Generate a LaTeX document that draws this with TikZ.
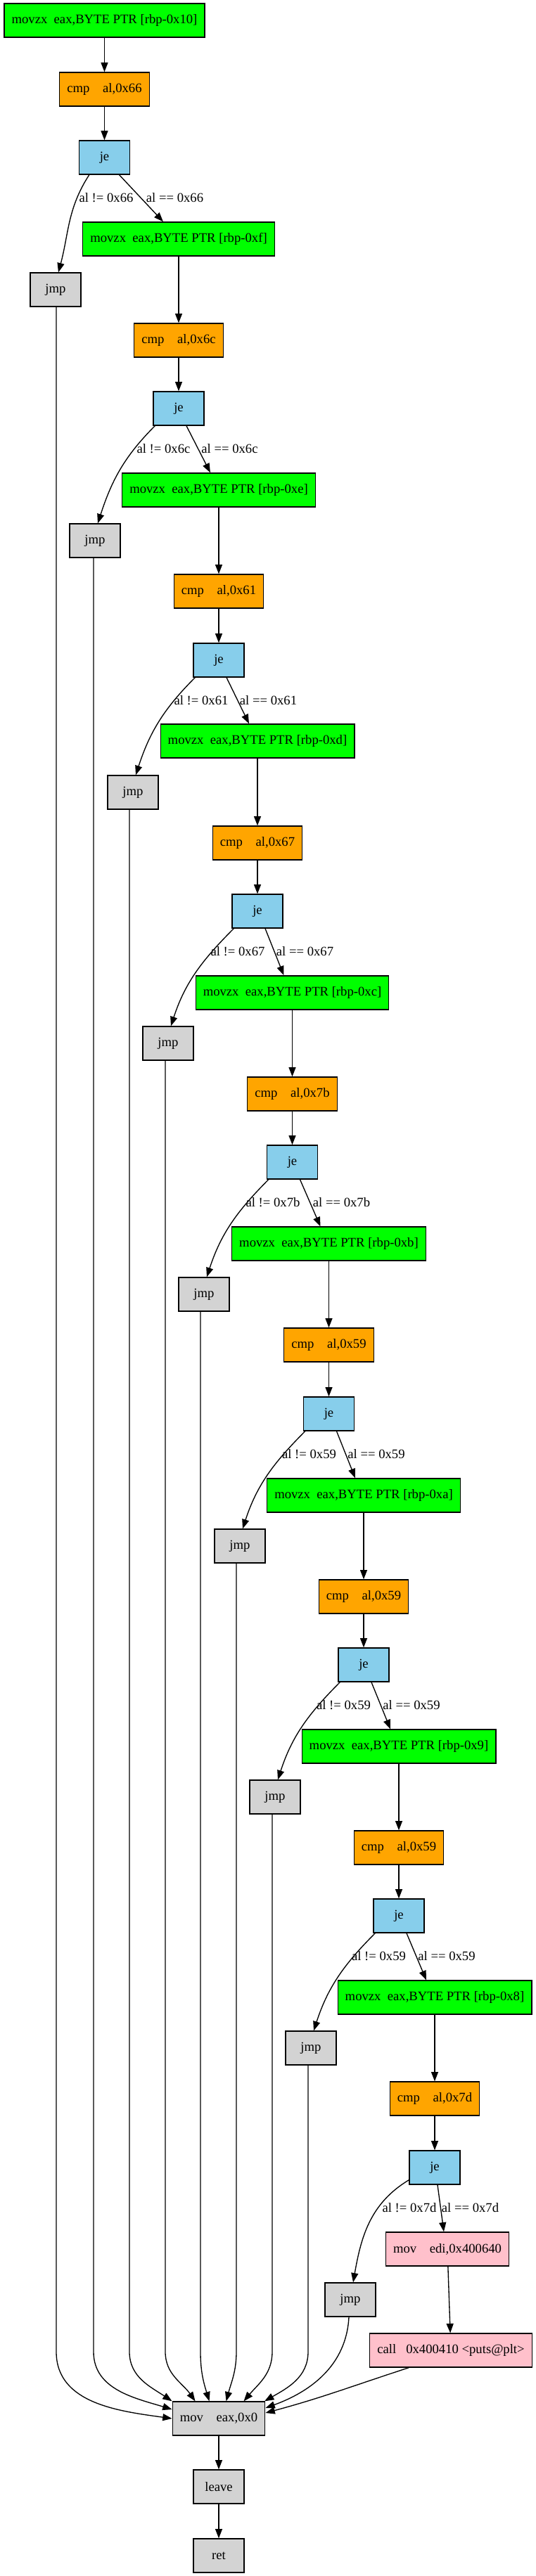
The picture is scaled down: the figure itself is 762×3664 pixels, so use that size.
\documentclass[tikz,border=0pt]{standalone}
\usepackage{fontspec}
\setmainfont{Liberation Serif}
\usetikzlibrary{arrows.meta}
\definecolor{grn}{HTML}{00FF00}
\definecolor{orng}{HTML}{FFA500}
\definecolor{skyb}{HTML}{87CEEB}
\definecolor{lgr}{HTML}{D3D3D3}
\definecolor{pnk}{HTML}{FFC0CB}
\begin{document}
\begin{tikzpicture}[x=0.75pt,y=0.75pt,
  blk/.style={draw=black,line width=1pt,minimum height=36pt,minimum width=54pt,inner xsep=7.92pt,inner ysep=0pt,font=\fontsize{14pt}{16pt}\selectfont},
  mzbox/.style={blk,fill=grn}, cmpbox/.style={blk,fill=orng}, jebox/.style={blk,fill=skyb},
  grbox/.style={blk,fill=lgr}, pkbox/.style={blk,fill=pnk},
  lbl/.style={inner sep=0pt,font=\fontsize{14pt}{16pt}\selectfont},
  arr/.style={-{Triangle[length=10pt,width=7.5pt]},line width=1pt}]
\useasboundingbox (0,0) rectangle (762,-3664);
\coordinate (bend) at (0,-3345);
\foreach \k/\mx/\my/\cy/\jy/\px/\py/\reg/\val in {
  1/148.5/29/127/224/79/412/0x10/0x66,
  2/254/340/484/581/135/769/0xf/0x6c,
  3/311/697/841/939/189/1127/0xe/0x61,
  4/366/1054/1199/1296/239/1484/0xd/0x67,
  5/415.5/1412/1556/1653/290/1841/0xc/0x7b,
  6/467.5/1769/1913/2011/341/2199/0xb/0x59,
  7/517/2127/2271/2368/391/2556/0xa/0x59,
  8/567/2484/2628/2725/442/2913/0x9/0x59,
  9/618/2841/2985/3083/498/3271/0x8/0x7d}{
  \node[mzbox] (m\k) at (\mx,-\my) {movzx\ \ eax,BYTE PTR [rbp-\reg]};
  \node[cmpbox] (c\k) at (\mx,-\cy) {cmp\ \ \ \ al,\val};
  \node[jebox] (j\k) at (\mx,-\jy) {je};
  \node[grbox] (p\k) at (\px,-\py) {jmp};
}
\foreach \k/\ax/\bx/\ly/\val in {
  1/151/248.5/281/0x66,
  2/232.5/326.5/638/0x6c,
  3/286/381.5/996/0x61,
  4/338/433.5/1353/0x67,
  5/388/485.5/1710/0x7b,
  6/439.5/535/2068/0x59,
  7/488.5/585/2425/0x59,
  8/538.5/635/2782/0x59,
  9/582/668.5/3140/0x7d}{
  \node[lbl] (ln\k) at (\ax,-\ly) {al != \val};
  \node[lbl] (le\k) at (\bx,-\ly) {al == \val};
}
\node[pkbox] (edi) at (636,-3199) {mov\ \ \ \ edi,0x400640};
\node[pkbox] (call) at (641,-3343) {call\ \ \ 0x400410 <puts@plt>};
\node[grbox] (m0) at (311,-3440) {mov\ \ \ \ eax,0x0};
\node[grbox] (leave) at (311,-3537) {leave};
\node[grbox] (ret) at (311,-3635) {ret};
% chain edges
\foreach \k in {1,...,9}{
  \draw[arr] (m\k) -- (c\k);
  \draw[arr] (c\k) -- (j\k);
}
\foreach \k in {2,...,8}{
  \pgfmathtruncatemacro\n{\k+1}
  \draw[arr] ([xshift=8.25pt]j\k.south) -- ([xshift=-9pt]m\n.north);
  \draw[arr] ([xshift=2.25pt]j\k.south west) to[out=-135,in=72] ([xshift=3pt]p\k.north);
}
\draw[arr] ([xshift=15.75pt]j1.south) -- ([xshift=-16.5pt]m2.north);
\draw[arr] ([xshift=11.25pt]j1.south west) to[out=-123,in=75] ([xshift=3pt]p1.north);
\draw[arr] ([xshift=3pt]j9.south) -- ([xshift=-3.75pt]edi.north);
\draw[arr] ([yshift=5.25pt]j9.south west) to[out=-149,in=80] ([xshift=3pt]p9.north);
\draw[arr] (edi) -- (call);
% jmp edges into mov eax
\draw[arr] ([xshift=0.75pt]p1.south) -- ([xshift=0.75pt]p1.south |- bend) to[out=-90,in=172] (m0.west);
\draw[arr] ([xshift=-1.5pt]p2.south) -- ([xshift=-1.5pt]p2.south |- bend) to[out=-90,in=163] ([yshift=9.75pt]m0.west);
\draw[arr] ([xshift=-3.75pt]p3.south) -- ([xshift=-3.75pt]p3.south |- bend) to[out=-90,in=146] (m0.north west);
\draw[arr] ([xshift=-3pt]p4.south) -- ([xshift=-3pt]p4.south |- bend) to[out=-90,in=125] ([xshift=24.75pt]m0.north west);
\draw[arr] ([xshift=-3.75pt]p5.south) -- ([xshift=-3.75pt]p5.south |- bend) to[out=-90,in=107] ([xshift=39.75pt]m0.north west);
\draw[arr] ([xshift=-3.75pt]p6.south) -- ([xshift=-3.75pt]p6.south |- bend) to[out=-90,in=75] ([xshift=57.75pt]m0.north west);
\draw[arr] ([xshift=-3pt]p7.south) -- ([xshift=-3pt]p7.south |- bend) to[out=-90,in=50] ([xshift=76.5pt]m0.north west);
\draw[arr] ([xshift=-3pt]p8.south) -- ([xshift=-3pt]p8.south |- bend) to[out=-90,in=30] ([xshift=-1pt]m0.north east);
\draw[arr] ([xshift=-1.5pt]p9.south) to[out=-93,in=20] ([yshift=11.25pt]m0.east);
\draw[arr] ([xshift=42pt]call.south west) to[out=-162,in=15] ([yshift=6pt]m0.east);
\draw[arr] (m0) -- (leave);
\draw[arr] (leave) -- (ret);
\end{tikzpicture}
\end{document}
